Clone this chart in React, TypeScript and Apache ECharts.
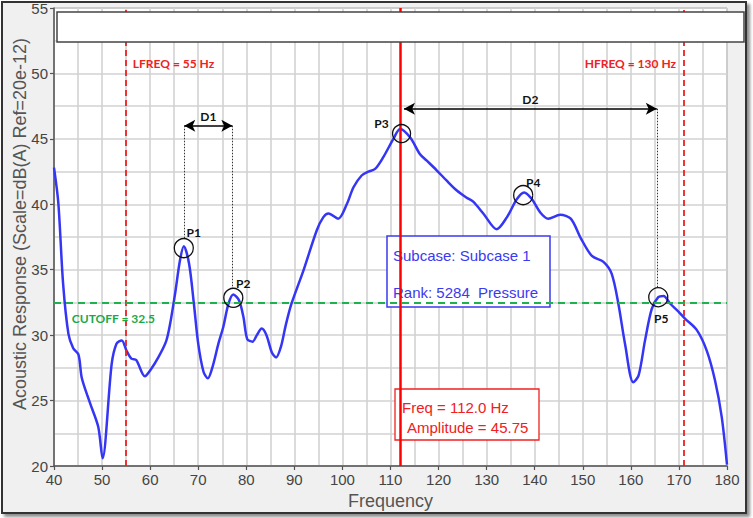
import React, { useEffect, useRef } from "react";
import * as echarts from "echarts";

const freqs = [
  40, 40.9, 41.9, 43.0, 44.0, 45.1, 45.8, 47.5, 49.2, 50.1, 52.0, 53.0, 54.1, 55.1, 56.1, 57.1, 58.9, 60.0,
  61.7, 63.3, 64.1, 65.2, 66.2, 67.0, 68.1, 69.1, 70.0, 71.1, 72.0, 73.0, 74.2, 75.2, 76.3, 77.3, 78.5,
  79.4, 80.2, 81.3, 82.2, 83.2, 84.2, 85.3, 86.2, 87.2, 88.2, 89.4, 91.9, 94.65, 96.0, 97.1, 99.1, 100.9,
  102.3, 104.0, 105.4, 106.8, 108.5, 110.6, 112.0, 114.1, 116.1, 117.5, 119.6, 121.7, 123.8, 125.85, 127.2,
  129.3, 132.1, 134.2, 136.3, 137.8, 139.4, 141.1, 142.8, 145.3, 147.5, 149.6, 151.9, 154.3, 156.0, 157.4,
  158.8, 160.5, 161.6, 162.95, 164.35, 165.7, 166.8, 168.2, 169.9, 171.3, 173.7, 175.8, 177.5, 178.9, 180,
];
const amps = [
  42.8, 40.1, 33.9, 30.1, 29.0, 28.5, 26.7, 24.8, 23.0, 20.6, 27.8, 29.35, 29.6, 28.8, 28.2, 28.1, 26.85, 27.3,
  28.3, 29.5, 30.75, 33.2, 35.7, 36.8, 35.45, 32.4, 29.35, 27.2, 26.7, 27.6, 29.35, 30.6, 32.4, 33.1, 32.65,
  31.4, 29.7, 29.5, 30.0, 30.5, 30.0, 28.7, 28.3, 29.1, 30.75, 32.4, 34.95, 38.0, 39.0, 39.3, 38.9, 40.0,
  41.3, 42.2, 42.5, 42.7, 43.6, 45.0, 45.75, 45.1, 43.85, 43.35, 42.6, 41.8, 41.05, 40.5, 40.2,
  39.3, 38.1, 39.0, 40.4, 40.9, 40.4, 39.4, 38.9, 39.2, 38.9, 37.4, 36.05, 35.6, 34.7, 32.4,
  29.3, 26.4, 26.9, 29.6, 32.0, 32.9, 33.0, 32.4, 31.8, 31.25, 30.4, 28.8, 26.55, 23.75, 20.1,
];

const peakLabels = ["P1", "P2", "P3", "P4", "P5"];
const peakFreqs = [67.0, 77.3, 112.3, 137.6, 165.7];
const peakAmps = [36.65, 32.85, 45.4, 40.7, 32.9];

const xTicks = { min: 40, max: 180, step: 10 };
const yTicks = { min: 20, max: 55, step: 5 };

const lfreq = 55;
const hfreq = 171;
const pickFreq = 112;
const cutoff = 32.5;

const d1 = { from: 67.1, to: 77.1, level: 46.0, label: "D1" };
const d2 = { from: 112.8, to: 165.4, level: 47.3, label: "D2" };

const labelFont = "Lato, 'Open Sans', sans-serif";
const uiFont = "'Liberation Sans', Arial, sans-serif";

export default function App() {
  const ref = useRef<HTMLDivElement>(null);

  useEffect(() => {
    document.body.style.margin = "0";
    const chart = echarts.init(ref.current!, null, { renderer: "svg" });
    const gridLine = { lineStyle: { color: "#d2d2d2", width: 1.6 } };
    const peakOffsets = [
      [10, -16],
      [10, -14],
      [-20, -10],
      [10, -13],
      [3, 21],
    ];
    const peakSizes = [19, 19, 18, 19, 19];

    const option: any = {
      animation: false,
      grid: {
        left: 54,
        right: 26,
        top: 8,
        bottom: 52,
        show: true,
        backgroundColor: "#ffffff",
        borderColor: "#777",
        borderWidth: 1,
      },
      xAxis: {
        type: "value",
        min: xTicks.min,
        max: xTicks.max,
        interval: xTicks.step,
        name: "Frequency",
        nameLocation: "middle",
        nameGap: 22,
        nameTextStyle: { fontFamily: uiFont, fontSize: 18, color: "#555" },
        axisLine: { show: true, lineStyle: { color: "#555", width: 1.5 } },
        axisTick: { show: true, length: 4, lineStyle: { color: "#555", width: 1.2 } },
        axisLabel: { fontFamily: uiFont, fontSize: 15, color: "#444", margin: 6 },
        splitLine: { show: true, ...gridLine },
        minorTick: { show: false, splitNumber: 2 },
        minorSplitLine: { show: true, ...gridLine },
      },
      yAxis: {
        type: "value",
        min: yTicks.min,
        max: yTicks.max,
        interval: yTicks.step,
        axisLine: { show: true, lineStyle: { color: "#555", width: 1.5 } },
        axisTick: { show: true, length: 4, lineStyle: { color: "#555", width: 1.2 } },
        axisLabel: { fontFamily: uiFont, fontSize: 15, color: "#444", margin: 6 },
        splitLine: { show: true, ...gridLine },
        minorTick: { show: false, splitNumber: 2 },
        minorSplitLine: { show: true, ...gridLine },
      },
      series: [
        {
          type: "line",
          data: freqs.map((f, i) => [f, amps[i]]),
          showSymbol: false,
          smooth: 0.3,
          lineStyle: { color: "#3535f5", width: 2.5 },
          z: 3,
          markLine: {
            silent: true,
            symbol: ["none", "none"],
            label: { show: false },
            data: [
              { xAxis: lfreq, lineStyle: { color: "#f02020", type: [6, 4], width: 1.8 } },
              { xAxis: hfreq, lineStyle: { color: "#f02020", type: [6, 4], width: 1.8 } },
              { yAxis: cutoff, lineStyle: { color: "#1fb050", type: [7, 5], width: 1.8 } },
              { xAxis: pickFreq, lineStyle: { color: "#ff0000", type: "solid", width: 2.5 } },
            ],
          },
          markPoint: {
            silent: true,
            data: [
              ...peakLabels.map((p, i) => ({
                coord: [peakFreqs[i], peakAmps[i]],
                symbol: "circle",
                symbolSize: peakSizes[i],
                itemStyle: { color: "rgba(0,0,0,0)", borderColor: "#111", borderWidth: 1.3 },
                label: {
                  show: true,
                  formatter: p,
                  position: "inside",
                  offset: peakOffsets[i],
                  color: "#111",
                  fontFamily: labelFont,
                  fontWeight: "bold",
                  fontSize: 12,
                },
              })),
              {
                coord: [56.4, 50.75],
                symbol: "circle",
                symbolSize: 1,
                itemStyle: { color: "rgba(0,0,0,0)" },
                label: {
                  show: true,
                  formatter: `LFREQ = ${lfreq} Hz`,
                  position: "inside",
                  align: "left",
                  verticalAlign: "middle",
                  color: "#ee2222",
                  fontFamily: labelFont,
                  fontWeight: "bold",
                  fontSize: 12,
                },
              },
              {
                coord: [169.4, 50.75],
                symbol: "circle",
                symbolSize: 1,
                itemStyle: { color: "rgba(0,0,0,0)" },
                label: {
                  show: true,
                  formatter: "HFREQ = 130 Hz",
                  position: "inside",
                  align: "right",
                  verticalAlign: "middle",
                  color: "#ee2222",
                  fontFamily: labelFont,
                  fontWeight: "bold",
                  fontSize: 12,
                },
              },
              {
                coord: [43.7, 31.3],
                symbol: "circle",
                symbolSize: 1,
                itemStyle: { color: "rgba(0,0,0,0)" },
                label: {
                  show: true,
                  formatter: `CUTOFF = ${cutoff}`,
                  position: "inside",
                  align: "left",
                  verticalAlign: "middle",
                  color: "#1aa84a",
                  fontFamily: labelFont,
                  fontWeight: "bold",
                  fontSize: 12,
                },
              },
            ],
          },
        },
        {
          type: "line",
          data: [],
          z: 4,
          markLine: {
            silent: true,
            symbol: ["arrow", "arrow"],
            symbolSize: [9, 11],
            lineStyle: { color: "#000", type: "solid", width: 1.5 },
            label: {
              show: true,
              position: "middle",
              color: "#111",
              fontFamily: labelFont,
              fontWeight: "bold",
              fontSize: 12,
              distance: 3,
            },
            data: [
              [
                { coord: [d1.from, d1.level], name: d1.label, label: { formatter: d1.label } },
                { coord: [d1.to, d1.level] },
              ],
              [
                { coord: [d2.from, d2.level], name: d2.label, label: { formatter: d2.label } },
                { coord: [d2.to, d2.level] },
              ],
            ],
          },
        },
        {
          type: "line",
          data: [],
          z: 4,
          markLine: {
            silent: true,
            symbol: ["none", "none"],
            lineStyle: { color: "#333", type: [1.5, 1.5], width: 1 },
            label: { show: false },
            data: [
              [{ coord: [d1.from, d1.level] }, { coord: [d1.from, peakAmps[0] + 0.72] }],
              [{ coord: [d1.to, d1.level] }, { coord: [d1.to, peakAmps[1] + 0.72] }],
              [{ coord: [d2.to, d2.level] }, { coord: [d2.to, peakAmps[4] + 0.72] }],
            ],
          },
        },
      ],
      graphic: [
        {
          type: "rect",
          z: 100,
          shape: { x: 57, y: 12, width: 687, height: 30 },
          style: { fill: "#ffffff", stroke: "#444", lineWidth: 1.5 },
        },
        {
          type: "text",
          z: 100,
          x: 20,
          y: 224,
          rotation: Math.PI / 2,
          style: {
            text: "Acoustic Response (Scale=dB(A) Ref=20e-12)",
            fontFamily: uiFont,
            fontSize: 18,
            fill: "#555",
            textAlign: "center",
            textVerticalAlign: "middle",
          },
        },
        {
          type: "group",
          z: 1,
          children: [
            {
              type: "rect",
              z: 1,
              shape: { x: 387, y: 236, width: 163, height: 71 },
              style: { fill: "#ffffff", stroke: "#3a3af0", lineWidth: 1.5 },
            },
            {
              type: "text",
              z: 1,
              x: 393,
              y: 255,
              style: {
                text: "Subcase: Subcase 1",
                fontFamily: uiFont,
                fontSize: 15,
                fill: "#3a3af0",
                textVerticalAlign: "middle",
              },
            },
            {
              type: "text",
              z: 1,
              x: 393,
              y: 292,
              style: {
                text: "Rank: 5284  Pressure",
                fontFamily: uiFont,
                fontSize: 15,
                fill: "#3a3af0",
                textVerticalAlign: "middle",
              },
            },
          ],
        },
        {
          type: "group",
          z: 1,
          children: [
            {
              type: "rect",
              z: 1,
              shape: { x: 395, y: 389, width: 144, height: 51 },
              style: { fill: "#ffffff", stroke: "#f02020", lineWidth: 1.3 },
            },
            {
              type: "text",
              z: 1,
              x: 402,
              y: 407,
              style: {
                text: "Freq = 112.0 Hz",
                fontFamily: uiFont,
                fontSize: 15,
                fill: "#f02020",
                textVerticalAlign: "middle",
              },
            },
            {
              type: "text",
              z: 1,
              x: 407,
              y: 427,
              style: {
                text: "Amplitude = 45.75",
                fontFamily: uiFont,
                fontSize: 15,
                fill: "#f02020",
                textVerticalAlign: "middle",
              },
            },
          ],
        },
      ],
    };
    chart.setOption(option);
    return () => chart.dispose();
  }, []);

  return (
    <div style={{ position: "fixed", left: 0, top: 0, width: 753, height: 518, background: "#fff" }}>
      <div
        style={{
          position: "absolute",
          left: 1,
          top: 1,
          width: 742,
          height: 509,
          border: "2px solid #333",
          background: "#f0f0f0",
          boxShadow: "3px 3px 3px rgba(0,0,0,0.45)",
        }}
      />
      <div ref={ref} style={{ position: "absolute", left: 0, top: 0, width: 753, height: 518 }} />
    </div>
  );
}
